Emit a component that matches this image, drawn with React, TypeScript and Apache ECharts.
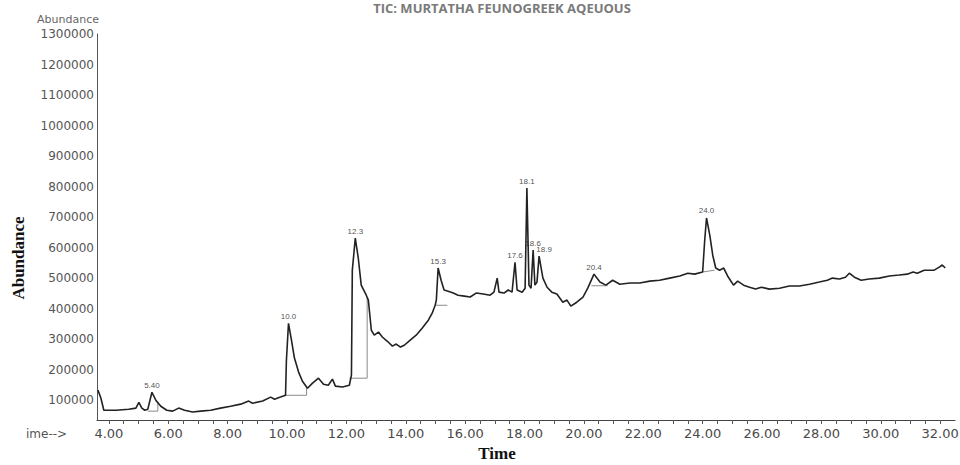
import React, { useEffect, useRef } from "react";
import * as echarts from "echarts";

// Retention time (min)
const times = [
  3.63, 3.73, 3.83, 4.24, 4.67, 4.91, 5.01, 5.11, 5.21, 5.31,
  5.45, 5.58, 5.75, 5.95, 6.15, 6.35, 6.55, 6.82, 7.09, 7.43,
  7.76, 8.1, 8.44, 8.71, 8.84, 9.18, 9.45, 9.58, 9.78, 9.95,
  9.98, 10.05, 10.15, 10.25, 10.39, 10.52, 10.69, 10.86, 11.06, 11.23,
  11.39, 11.53, 11.63, 11.87, 12.1, 12.17, 12.2, 12.3, 12.4, 12.5,
  12.67, 12.74, 12.84, 12.94, 13.08, 13.21, 13.38, 13.55, 13.68, 13.82,
  13.95, 14.15, 14.35, 14.55, 14.76, 14.89, 14.99, 15.03, 15.09, 15.19,
  15.29, 15.43, 15.6, 15.76, 15.97, 16.17, 16.37, 16.61, 16.84, 16.97,
  17.08, 17.14, 17.31, 17.45, 17.58, 17.68, 17.75, 17.92, 18.02, 18.08,
  18.15, 18.22, 18.29, 18.35, 18.42, 18.49, 18.62, 18.76, 18.92, 19.09,
  19.29, 19.43, 19.56, 19.76, 19.97, 20.13, 20.34, 20.54, 20.74, 20.97,
  21.21, 21.55, 21.88, 22.22, 22.55, 22.89, 23.23, 23.5, 23.73, 24.0,
  24.07, 24.13, 24.24, 24.34, 24.44, 24.57, 24.71, 24.84, 25.04, 25.18,
  25.38, 25.58, 25.78, 25.98, 26.25, 26.59, 26.92, 27.26, 27.6, 27.93,
  28.2, 28.37, 28.61, 28.81, 28.94, 29.11, 29.34, 29.61, 29.95, 30.29,
  30.62, 30.89, 31.09, 31.23, 31.46, 31.8, 31.97, 32.07, 32.17,
];

// Total ion current abundance
const abundance = [
  133000, 107000, 67000, 67000, 70000, 74000, 93000, 74000, 67000, 70000,
  126000, 100000, 80000, 67000, 64000, 74000, 67000, 61000, 64000, 67000,
  74000, 80000, 87000, 97000, 90000, 97000, 110000, 103000, 110000, 116000,
  231000, 352000, 297000, 238000, 192000, 162000, 139000, 156000, 172000, 152000,
  149000, 169000, 146000, 143000, 149000, 182000, 526000, 631000, 566000, 477000,
  444000, 428000, 329000, 313000, 323000, 307000, 293000, 277000, 284000, 274000,
  280000, 297000, 313000, 336000, 362000, 385000, 411000, 428000, 533000, 493000,
  461000, 457000, 451000, 444000, 441000, 438000, 451000, 448000, 444000, 454000,
  500000, 454000, 451000, 461000, 454000, 552000, 461000, 454000, 467000, 795000,
  477000, 467000, 592000, 477000, 487000, 572000, 500000, 470000, 454000, 448000,
  421000, 428000, 408000, 421000, 438000, 467000, 513000, 487000, 477000, 493000,
  480000, 484000, 484000, 490000, 493000, 500000, 507000, 516000, 513000, 520000,
  625000, 697000, 641000, 575000, 533000, 526000, 533000, 507000, 477000, 490000,
  477000, 470000, 464000, 470000, 464000, 467000, 474000, 474000, 480000, 487000,
  493000, 500000, 497000, 503000, 516000, 503000, 493000, 497000, 500000, 507000,
  510000, 513000, 520000, 516000, 526000, 526000, 536000, 543000, 533000,
];

// Labelled peaks
const peakNames = ["5.40", "10.0", "12.3", "15.3", "17.6", "18.1", "18.6", "18.9", "20.4", "24.0"];
const peakTimes = [5.45, 10.05, 12.3, 15.09, 17.68, 18.08, 18.29, 18.49, 20.34, 24.13];
const peakValues = [126000, 352000, 631000, 533000, 552000, 795000, 592000, 572000, 513000, 697000];

// Integration baselines drawn under the peaks
const baselineSegments: number[][][] = [
  [[5.31, 64000], [5.65, 64000], [5.65, 95000]],
  [[9.95, 116000], [10.66, 116000], [10.66, 140000]],
  [[12.1, 172000], [12.7, 172000], [12.7, 436000]],
  [[15.0, 411000], [15.4, 411000]],
  [[20.25, 475000], [20.8, 475000]],
  [[24.0, 520000], [24.4, 526000]],
];

// Axis ticks
const yTickValues = [100000, 200000, 300000, 400000, 500000, 600000, 700000, 800000, 900000, 1000000, 1100000, 1200000, 1300000];
const xLabelValues = [4, 6, 8, 10, 12, 14, 16, 18, 20, 22, 24, 26, 28, 30, 32];
const xMinorTicks = [4, 4.5, 5, 5.5, 6, 6.5, 7, 7.5, 8, 8.5, 9, 9.5, 10, 10.5, 11, 11.5, 12, 12.5, 13, 13.5, 14, 14.5, 15, 15.5, 16, 16.5, 17, 17.5, 18, 18.5, 19, 19.5, 20, 20.5, 21, 21.5, 22, 22.5, 23, 23.5, 24, 24.5, 25, 25.5, 26, 26.5, 27, 27.5, 28, 28.5, 29, 29.5, 30, 30.5, 31, 31.5, 32];

const labelNudge: Record<string, number[]> = { "18.9": [5, 0] };

export default function App() {
  const ref = useRef<HTMLDivElement>(null);

  useEffect(() => {
    if (!ref.current) return;
    const chart = echarts.init(ref.current, undefined, { renderer: "svg" });
    const trace = times.map((t, i) => [t, abundance[i]]);

    const option: any = {
      animation: false,
      backgroundColor: "#ffffff",
      grid: { left: 97, top: 34, right: 5, bottom: 45, containLabel: false, outerBoundsMode: "none" },
      xAxis: {
        type: "value",
        min: 3.6,
        max: 32.5,
        axisLine: { show: true, lineStyle: { color: "#444", width: 1.2 } },
        axisTick: { show: true, customValues: xMinorTicks, length: 4, lineStyle: { color: "#555" } },
        axisLabel: {
          customValues: xLabelValues,
          formatter: (v: number) => v.toFixed(2),
          fontFamily: "DejaVu Sans",
          fontSize: 13,
          color: "#4a4a4a",
          margin: 7,
        },
        splitLine: { show: false },
      },
      yAxis: {
        type: "value",
        min: 35000,
        max: 1300000,
        axisLine: { show: true, lineStyle: { color: "#555", width: 1 } },
        axisTick: { show: false },
        axisLabel: {
          customValues: yTickValues,
          formatter: (v: number) => String(v),
          fontFamily: "DejaVu Sans",
          fontSize: 12,
          color: "#555",
          margin: 3,
        },
        splitLine: { show: false },
      },
      series: [
        {
          type: "line",
          data: trace,
          showSymbol: false,
          symbol: "none",
          lineStyle: { color: "#222", width: 1.6 },
          z: 3,
        },
        ...baselineSegments.map((seg) => ({
          type: "line",
          data: seg,
          showSymbol: false,
          symbol: "none",
          lineStyle: { color: "#8a8a8a", width: 1 },
          z: 2,
        })),
        {
          type: "scatter",
          symbolSize: 0,
          data: peakNames.map((n, i) => ({
            name: n,
            value: [peakTimes[i], peakValues[i]],
            label: labelNudge[n] ? { offset: labelNudge[n] } : undefined,
          })),
          label: {
            show: true,
            position: "top",
            distance: 3,
            formatter: (p: any) => p.name,
            fontFamily: "Liberation Sans",
            fontSize: 8,
            color: "#222",
          },
          z: 4,
        },
      ],
      graphic: [
        {
          type: "text",
          x: 502,
          y: 8,
          style: {
            text: "TIC: MURTATHA FEUNOGREEK AQEUOUS",
            fontFamily: "Open Sans",
            fontWeight: "bold",
            fontSize: 13,
            fill: "#7a7a7a",
            textAlign: "center",
            textVerticalAlign: "middle",
          },
        },
        {
          type: "text",
          x: 99,
          y: 19,
          style: {
            text: "Abundance",
            fontFamily: "DejaVu Sans",
            fontSize: 11,
            fill: "#666",
            textAlign: "right",
            textVerticalAlign: "middle",
          },
        },
        {
          type: "text",
          x: 18,
          y: 258,
          rotation: Math.PI / 2,
          style: {
            text: "Abundance",
            fontFamily: "Liberation Serif",
            fontWeight: "bold",
            fontSize: 17,
            fill: "#111",
            textAlign: "center",
            textVerticalAlign: "middle",
          },
        },
        {
          type: "text",
          x: 26,
          y: 434,
          style: {
            text: "ime-->",
            fontFamily: "DejaVu Sans",
            fontSize: 12,
            fill: "#555",
            textAlign: "left",
            textVerticalAlign: "middle",
          },
        },
        {
          type: "text",
          x: 497,
          y: 453,
          style: {
            text: "Time",
            fontFamily: "Liberation Serif",
            fontWeight: "bold",
            fontSize: 17,
            fill: "#111",
            textAlign: "center",
            textVerticalAlign: "middle",
          },
        },
      ],
    };

    chart.setOption(option);
    return () => chart.dispose();
  }, []);

  return (
    <div
      ref={ref}
      style={{ position: "fixed", left: 0, top: 0, width: 960, height: 465, background: "#fff" }}
    />
  );
}
